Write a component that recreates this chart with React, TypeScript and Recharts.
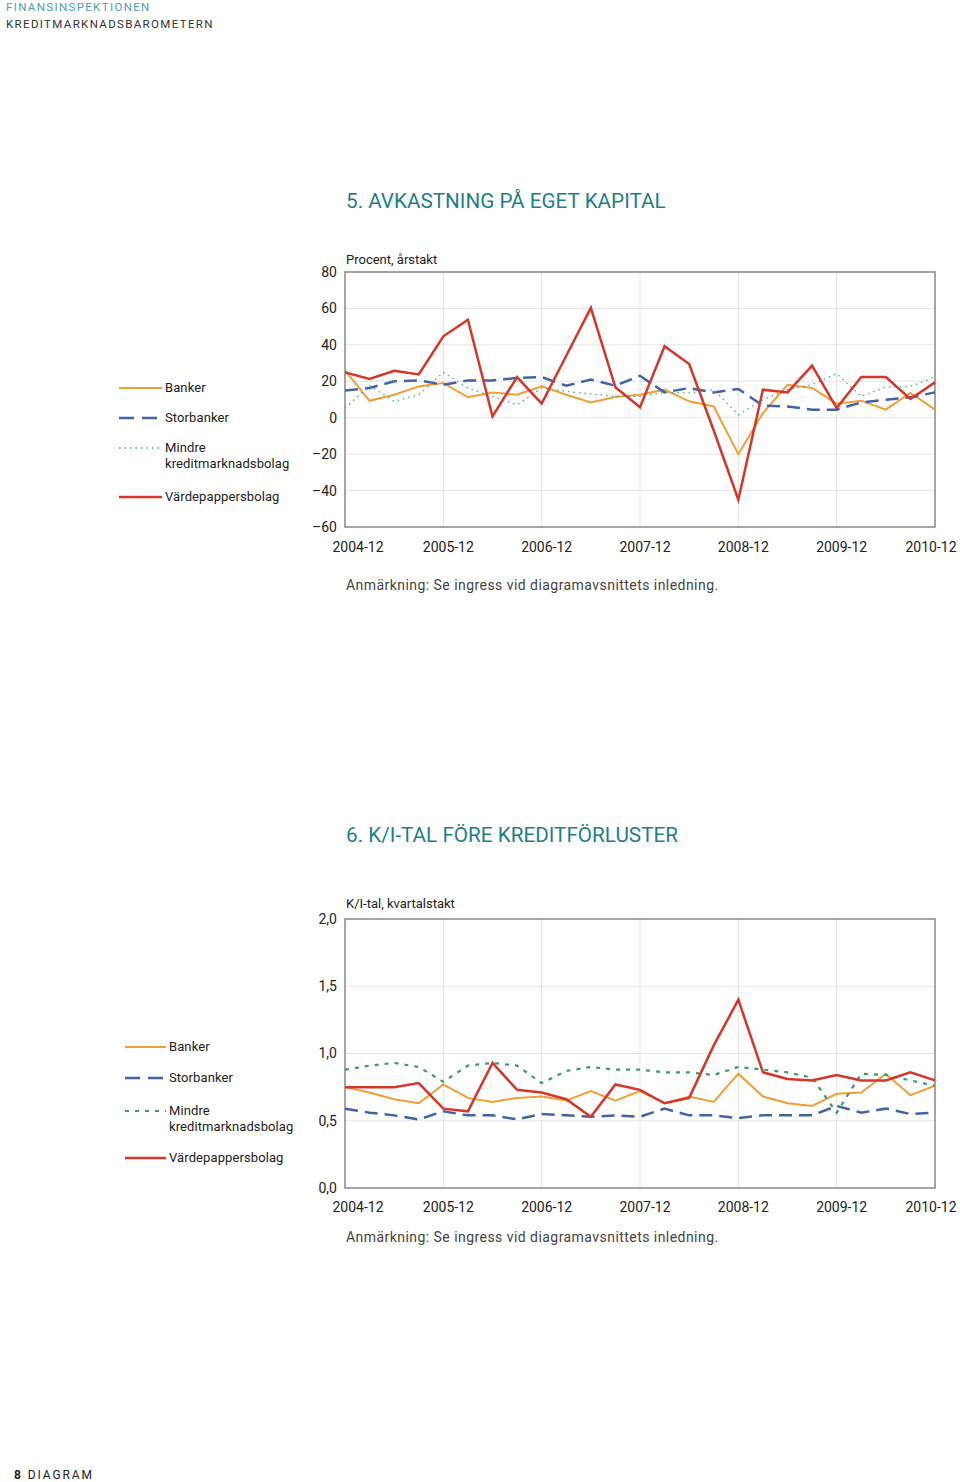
import React from 'react';
import {
  LineChart,
  Line,
  XAxis,
  YAxis,
  CartesianGrid,
  ReferenceArea,
} from 'recharts';

// quarterly observations, 2004-12 .. 2010-12
const QUARTERS = [
  '2004-12', '2005-03', '2005-06', '2005-09', '2005-12',
  '2006-03', '2006-06', '2006-09', '2006-12',
  '2007-03', '2007-06', '2007-09', '2007-12',
  '2008-03', '2008-06', '2008-09', '2008-12',
  '2009-03', '2009-06', '2009-09', '2009-12',
  '2010-03', '2010-06', '2010-09', '2010-12',
];
const YEAR_TICKS = ['2004-12', '2005-12', '2006-12', '2007-12', '2008-12', '2009-12', '2010-12'];

// 5. Avkastning på eget kapital (procent, årstakt)
const roeBanker = [26, 9.3, 12.6, 17.2, 19.1, 11.2, 13.9, 12.6, 17.2, 12.6, 8.4, 11.4, 12.6, 15.4, 9, 6.2, -20, 2.6, 18.1, 16.3, 7.7, 9.3, 4.4, 13.6, 4.4];
const roeStorbanker = [15, 16.3, 20, 20.5, 18.1, 20.5, 20.5, 21.8, 22.3, 17.6, 20.9, 17.6, 23, 13.9, 16.3, 13.9, 15.8, 6.6, 6.2, 4.4, 4.4, 8.4, 9.9, 11.2, 13.9];
const roeMindre = [5.3, 17.6, 9, 12.6, 24.9, 16.3, 11.7, 7.1, 16.3, 14.5, 13, 11.7, 11.7, 13.9, 13.6, 15.4, 1.6, 9.9, 15.4, 18.1, 24.2, 11.7, 16.9, 17.2, 22.3];
const roeVardepapper = [24.9, 21.3, 25.8, 23.8, 44.7, 53.8, 0.7, 22.3, 7.7, 34, 60.3, 16.7, 5.7, 39.2, 29.5, -7, -45, 15.4, 13.9, 28.6, 5.3, 22.3, 22.3, 10.3, 19.4];
const roeTicks = [-60, -40, -20, 0, 20, 40, 60, 80];

// 6. K/I-tal före kreditförluster (kvartalstakt)
const kiBanker = [0.75, 0.71, 0.66, 0.63, 0.77, 0.67, 0.64, 0.67, 0.68, 0.65, 0.72, 0.65, 0.72, 0.63, 0.68, 0.64, 0.85, 0.68, 0.63, 0.61, 0.7, 0.71, 0.85, 0.69, 0.76];
const kiStorbanker = [0.59, 0.56, 0.54, 0.51, 0.57, 0.54, 0.54, 0.51, 0.55, 0.54, 0.53, 0.54, 0.53, 0.59, 0.54, 0.54, 0.52, 0.54, 0.54, 0.54, 0.61, 0.56, 0.59, 0.55, 0.56];
const kiMindre = [0.88, 0.91, 0.93, 0.9, 0.79, 0.91, 0.93, 0.91, 0.78, 0.87, 0.9, 0.88, 0.88, 0.86, 0.86, 0.84, 0.9, 0.88, 0.86, 0.82, 0.56, 0.85, 0.84, 0.8, 0.76];
const kiVardepapper = [0.75, 0.75, 0.75, 0.78, 0.59, 0.57, 0.93, 0.73, 0.71, 0.66, 0.53, 0.77, 0.73, 0.63, 0.67, 1.06, 1.4, 0.86, 0.81, 0.8, 0.84, 0.8, 0.8, 0.86, 0.8];
const kiTicks = [0, 0.5, 1, 1.5, 2];

const SERIES_NAMES = ['Banker', 'Storbanker', 'Mindre\nkreditmarknadsbolag', 'Värdepappersbolag'];

const FONT = 'Roboto, "Liberation Sans", Arial, sans-serif';
const TEAL = '#1e7f88';

const roeData = QUARTERS.map((q, i) => ({
  i,
  q,
  banker: roeBanker[i],
  storbanker: roeStorbanker[i],
  mindre: roeMindre[i],
  vardepapper: roeVardepapper[i],
}));

const kiData = QUARTERS.map((q, i) => ({
  i,
  q,
  banker: kiBanker[i],
  storbanker: kiStorbanker[i],
  mindre: kiMindre[i],
  vardepapper: kiVardepapper[i],
}));

const xTicks = YEAR_TICKS.map((t) => QUARTERS.indexOf(t));
const lastIndex = QUARTERS.length - 1;

type Style = { key: string; color: string; width: number; dash?: string; legendDash?: string };

const styles1: Style[] = [
  { key: 'banker', color: '#f0a033', width: 2 },
  { key: 'storbanker', color: '#4263a8', width: 2.5, dash: '13 7', legendDash: '15 8' },
  { key: 'mindre', color: '#49a596', width: 1.3, dash: '1.5 4' },
  { key: 'vardepapper', color: '#d8352a', width: 2.5 },
];

const styles2: Style[] = [
  { key: 'banker', color: '#f0a033', width: 2 },
  { key: 'storbanker', color: '#4263a8', width: 2.5, dash: '13 7', legendDash: '15 8' },
  { key: 'mindre', color: '#3a9a70', width: 2.2, dash: '4 6' },
  { key: 'vardepapper', color: '#d8352a', width: 2.5 },
];

function Text({ x, cy, size, h, children, style }: any) {
  return (
    <div
      style={{
        position: 'absolute',
        left: x,
        top: cy - h / 2,
        height: h,
        lineHeight: `${h}px`,
        fontSize: size,
        fontFamily: FONT,
        whiteSpace: 'nowrap',
        ...style,
      }}
    >
      {children}
    </div>
  );
}

function makeYearTick(baseline: number) {
  return function YearTick(props: any) {
    const { x, y, payload } = props;
    const dx = payload.value === 0 ? 13 : payload.value === lastIndex ? -4 : 5;
    return (
      <text x={x + dx} y={y + baseline} textAnchor="middle" fontSize={14} fontFamily={FONT} fill="#222">
        {QUARTERS[payload.value]}
      </text>
    );
  };
}

function Legend({ items, rows, lineX1, lineX2, textX }: any) {
  return (
    <>
      {items.map((s: Style, idx: number) => {
        const cy = rows[idx];
        const lines = SERIES_NAMES[idx].split('\n');
        return (
          <React.Fragment key={s.key}>
            <svg
              style={{ position: 'absolute', left: lineX1, top: cy - 3 }}
              width={lineX2 - lineX1}
              height={6}
            >
              <line
                x1={0}
                x2={lineX2 - lineX1}
                y1={3}
                y2={3}
                stroke={s.color}
                strokeWidth={s.width}
                strokeDasharray={s.legendDash || s.dash}
              />
            </svg>
            {lines.map((t, k) => (
              <Text key={k} x={textX} cy={cy + k * 16} size={13} h={16} style={{ color: '#222', letterSpacing: 0.1 }}>
                {t}
              </Text>
            ))}
          </React.Fragment>
        );
      })}
    </>
  );
}

function Series(styles: Style[], names: string[]) {
  return styles.map((s, idx) => (
    <Line
      key={s.key}
      type="linear"
      dataKey={s.key}
      name={names[idx]}
      stroke={s.color}
      strokeWidth={s.width}
      strokeDasharray={s.dash}
      dot={false}
      isAnimationActive={false}
    />
  ));
}

export default function App() {
  const roeFmt = (v: number) => (v < 0 ? `\u2013${Math.abs(v)}` : `${v}`);
  const kiFmt = (v: number) => v.toFixed(1).replace('.', ',');

  return (
    <div style={{ position: 'absolute', left: 0, top: 0, width: 960, height: 1482, background: '#fff', fontFamily: FONT }}>
      <Text x={6} cy={7} size={11.5} h={14} style={{ color: '#4f9fa8', letterSpacing: 1.35 }}>
        FINANSINSPEKTIONEN
      </Text>
      <Text x={6} cy={24} size={11.5} h={14} style={{ color: '#333', letterSpacing: 1.35 }}>
        KREDITMARKNADSBAROMETERN
      </Text>

      {/* chart 5 */}
      <Text x={346} cy={201} size={20.7} h={26} style={{ color: TEAL }}>
        5. AVKASTNING PÅ EGET KAPITAL
      </Text>
      <Text x={346} cy={260} size={13} h={16} style={{ color: '#222' }}>
        Procent, årstakt
      </Text>
      <Legend items={styles1} rows={[388, 418, 448, 497]} lineX1={119} lineX2={162} textX={165} />
      <div style={{ position: 'absolute', left: 0, top: 262 }}>
        <LineChart width={960} height={300} data={roeData} margin={{ top: 10, right: 25, bottom: 5, left: 290 }}>
          <CartesianGrid stroke="#e4e4e4" strokeWidth={1} />
          <XAxis
            dataKey="i"
            type="number"
            domain={[0, lastIndex]}
            ticks={xTicks}
            interval={0}
            axisLine={false}
            tickLine={false}
            tickSize={0}
            tickMargin={0}
            height={30}
            tick={makeYearTick(25)}
          />
          <YAxis
            type="number"
            domain={[-60, 80]}
            ticks={roeTicks}
            interval={0}
            width={55}
            axisLine={false}
            tickLine={false}
            tickSize={0}
            tickMargin={8}
            tickFormatter={roeFmt}
            tick={{ fontSize: 14, fill: '#222', fontFamily: FONT }}
          />
          <ReferenceArea x1={0} x2={lastIndex} y1={-60} y2={80} fill="none" stroke="#8c8c8c" strokeWidth={1.5} />
          {Series(styles1, SERIES_NAMES)}
        </LineChart>
      </div>
      <Text x={346} cy={585} size={14} h={18} style={{ color: '#444', letterSpacing: 0.45 }}>
        Anmärkning: Se ingress vid diagramavsnittets inledning.
      </Text>

      {/* chart 6 */}
      <Text x={346} cy={835} size={20.7} h={26} style={{ color: TEAL }}>
        6. K/I-TAL FÖRE KREDITFÖRLUSTER
      </Text>
      <Text x={346} cy={904} size={13} h={16} style={{ color: '#222' }}>
        K/I-tal, kvartalstakt
      </Text>
      <Legend items={styles2} rows={[1047, 1078, 1111, 1158]} lineX1={125} lineX2={166} textX={169} />
      <div style={{ position: 'absolute', left: 0, top: 909 }}>
        <LineChart width={960} height={314} data={kiData} margin={{ top: 10, right: 25, bottom: 5, left: 290 }}>
          <CartesianGrid stroke="#e4e4e4" strokeWidth={1} />
          <XAxis
            dataKey="i"
            type="number"
            domain={[0, lastIndex]}
            ticks={xTicks}
            interval={0}
            axisLine={false}
            tickLine={false}
            tickSize={0}
            tickMargin={0}
            height={30}
            tick={makeYearTick(24)}
          />
          <YAxis
            type="number"
            domain={[0, 2]}
            ticks={kiTicks}
            interval={0}
            width={55}
            axisLine={false}
            tickLine={false}
            tickSize={0}
            tickMargin={8}
            tickFormatter={kiFmt}
            tick={{ fontSize: 14, fill: '#222', fontFamily: FONT }}
          />
          <ReferenceArea x1={0} x2={lastIndex} y1={0} y2={2} fill="none" stroke="#8c8c8c" strokeWidth={1.5} />
          {Series(styles2, SERIES_NAMES)}
        </LineChart>
      </div>
      <Text x={346} cy={1237} size={14} h={18} style={{ color: '#444', letterSpacing: 0.45 }}>
        Anmärkning: Se ingress vid diagramavsnittets inledning.
      </Text>

      <Text x={14} cy={1475} size={12} h={14} style={{ color: '#222', letterSpacing: 1.9 }}>
        <b>8</b> DIAGRAM
      </Text>
    </div>
  );
}
